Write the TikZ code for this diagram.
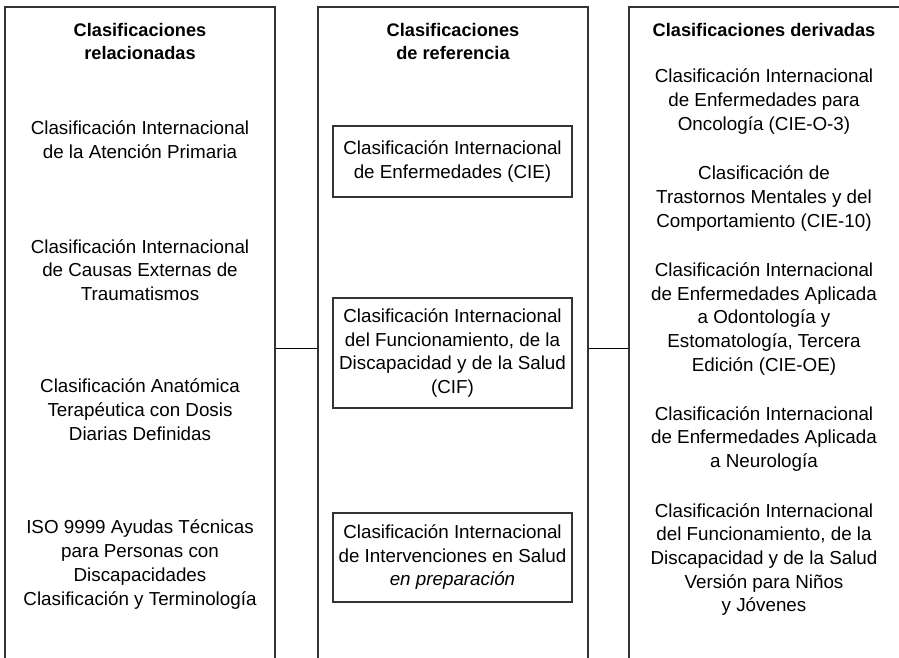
\documentclass[tikz,border=0pt]{standalone}
\usepackage{fontspec}
\setmainfont{Liberation Sans}
\begin{document}
\begin{tikzpicture}[x=1pt,y=-1pt,
  col/.style={draw=black!80,line width=1.3pt,minimum height=682pt,inner sep=0pt},
  hdr/.style={align=center,font=\fontsize{18.2}{23.5}\selectfont\bfseries},
  item/.style={align=center,font=\fontsize{18.8}{23.7}\selectfont},
  refbox/.style={draw=black!80,line width=1.3pt,align=center,inner sep=0pt,
    minimum width=239pt,font=\fontsize{18.8}{23.5}\selectfont}]
\useasboundingbox (0,0) rectangle (899,658);
% columns
\node[col,minimum width=270pt] (colrel) at (140,348) {};
\node[col,minimum width=270pt] (colref) at (453,348) {};
\node[col,minimum width=276pt] (colder) at (767,348) {};
\draw[line width=1pt] (colrel) -- (colref);
\draw[line width=1pt] (colref) -- (colder);
% headers
\node[hdr] (hrel) at (140,41.5) {Clasificaciones\\relacionadas};
\node[hdr] (href) at (453,41.5) {Clasificaciones\\de referencia};
\node[hdr] (hder) at (764,30) {Clasificaciones derivadas};
% related
\node[item] (rel1) at (140,139.5) {Clasificación Internacional\\de la Atención Primaria};
\node[item] (rel2) at (140,270) {Clasificación Internacional\\de Causas Externas de\\Traumatismos};
\node[item] (rel3) at (140,409.5) {Clasificación Anatómica\\Terapéutica con Dosis\\Diarias Definidas};
\node[item] (rel4) at (140,564.5) {ISO 9999 Ayudas Técnicas\\para Personas con\\Discapacidades\\Clasificación y Terminología};
% reference
\node[refbox,minimum height=71pt] (ref1) at (452.5,161.5) {Clasificación Internacional\\de Enfermedades (CIE)};
\node[refbox,minimum height=110pt] (ref2) at (452.5,353) {Clasificación Internacional\\del Funcionamiento, de la\\Discapacidad y de la Salud\\(CIF)};
\node[refbox,minimum height=89pt] (ref3) at (452.5,557.5) {Clasificación Internacional\\de Intervenciones en Salud\\\textit{en preparación}};
% derived
\node[item] (der1) at (764,101.5) {Clasificación Internacional\\de Enfermedades para\\Oncología (CIE-O-3)};
\node[item] (der2) at (764,198.5) {Clasificación de\\Trastornos Mentales y del\\Comportamiento (CIE-10)};
\node[item] (der3) at (764,319) {Clasificación Internacional\\de Enfermedades Aplicada\\a Odontología y\\Estomatología, Tercera\\Edición (CIE-OE)};
\node[item] (der4) at (764,439) {Clasificación Internacional\\de Enfermedades Aplicada\\a Neurología};
\node[item] (der5) at (764,559.5) {Clasificación Internacional\\del Funcionamiento, de la\\Discapacidad y de la Salud\\Versión para Niños\\y Jóvenes};
\end{tikzpicture}
\end{document}
